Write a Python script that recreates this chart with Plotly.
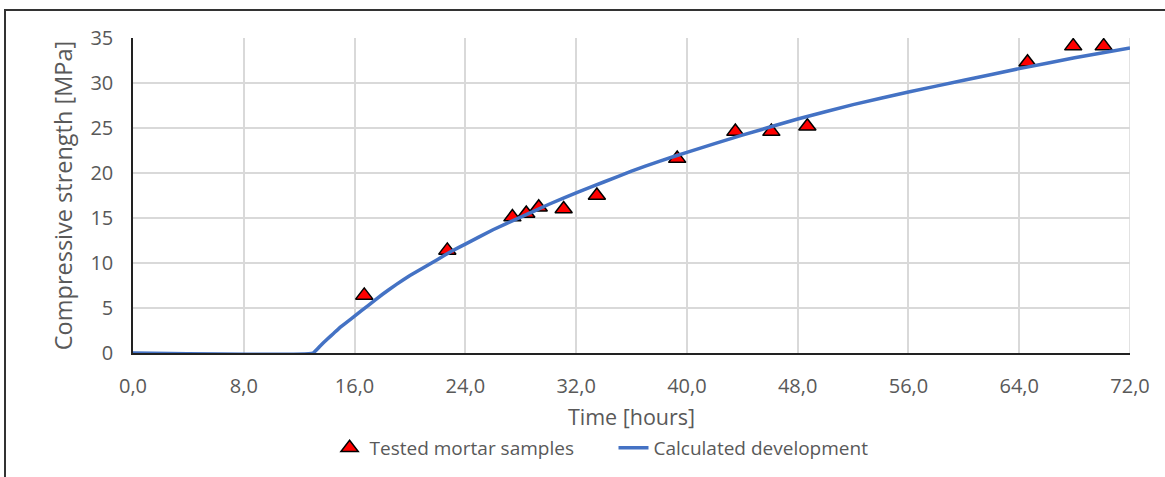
import plotly.graph_objects as go

# Tested mortar samples
sample_time = [16.7, 22.7, 27.4, 28.4, 29.3, 31.1, 33.5, 39.3, 43.5, 46.1, 48.7, 64.6, 67.9, 70.1]
sample_strength = [6.4, 11.4, 15.1, 15.5, 16.2, 16.0, 17.5, 21.6, 24.6, 24.6, 25.2, 32.3, 34.1, 34.1]

# Calculated development
calc_time = [0, 13, 13.5, 14, 14.5, 15, 16, 17, 18, 19, 20, 21, 22, 23, 24, 26, 28, 30, 32, 34, 36, 38,
             40, 44, 48, 52, 56, 60, 64, 68, 72]
calc_strength = [0, 0, 0.75, 1.5, 2.2, 2.9, 4.1, 5.3, 6.5, 7.6, 8.6, 9.5, 10.4, 11.3, 12.1, 13.7, 15.1,
                 16.5, 17.8, 19.0, 20.2, 21.3, 22.3, 24.2, 26.0, 27.6, 29.0, 30.3, 31.6, 32.8, 33.9]

x_tickvals = [0, 8, 16, 24, 32, 40, 48, 56, 64, 72]
x_ticktext = ["0,0", "8,0", "16,0", "24,0", "32,0", "40,0", "48,0", "56,0", "64,0", "72,0"]
y_tickvals = [0, 5, 10, 15, 20, 25, 30, 35]

FONT = "Open Sans"
GRAY = "#595959"
PAD = "\u00a0" * 7

fig = go.Figure()
fig.add_trace(go.Scatter(
    x=sample_time, y=sample_strength, mode="markers", name="Tested mortar samples" + PAD,
    marker=dict(symbol="triangle-up", size=15, color="#ff0000", line=dict(color="black", width=1.5)),
))
fig.add_trace(go.Scatter(
    x=calc_time, y=calc_strength, mode="lines", name="Calculated development",
    line=dict(color="#4472C4", width=3.5, shape="spline", smoothing=0.3),
))

fig.update_layout(
    width=1165, height=477,
    margin=dict(l=133, r=35, t=38, b=123),
    paper_bgcolor="white", plot_bgcolor="white",
    font=dict(family=FONT, color=GRAY, size=19),
    showlegend=True,
    legend=dict(orientation="h", x=0.47, xanchor="center", y=-0.297, yanchor="middle",
                font=dict(size=19, color=GRAY), tracegroupgap=0),
    shapes=[dict(type="rect", xref="paper", yref="paper",
                 x0=(5 - 133) / 997, x1=(1175 - 133) / 997,
                 y0=(354 - 490) / 316, y1=(354 - 10) / 316,
                 line=dict(color="#333333", width=2), fillcolor="rgba(0,0,0,0)", layer="below")],
)
fig.update_xaxes(
    range=[0, 72], tickvals=x_tickvals, ticktext=x_ticktext,
    showgrid=True, gridcolor="#d9d9d9", gridwidth=1.5,
    showline=True, linecolor="#222222", linewidth=1.5,
    ticks="outside", ticklen=14, tickcolor="rgba(0,0,0,0)",
    tickfont=dict(size=20, color=GRAY, family=FONT),
    title=dict(text="Time [hours]", font=dict(size=21.5, color=GRAY, family=FONT), standoff=12),
    zeroline=False, mirror=False,
)
fig.update_yaxes(
    range=[0, 35], tickvals=y_tickvals,
    showgrid=True, gridcolor="#d9d9d9", gridwidth=1.5,
    showline=True, linecolor="#222222", linewidth=1.5,
    ticks="outside", ticklen=14, tickcolor="rgba(0,0,0,0)",
    tickfont=dict(size=20, color=GRAY, family=FONT),
    title=dict(text="Compressive strength [MPa]", font=dict(size=23.5, color=GRAY, family=FONT), standoff=11),
    zeroline=False,
)
fig.add_shape(type="line", xref="x", yref="paper", x0=72, x1=72, y0=0, y1=1,
              line=dict(color="#d9d9d9", width=1.5), layer="below")

fig.write_html("out.html", config={"displayModeBar": False},
               post_script="document.body.style.margin='0px';")
